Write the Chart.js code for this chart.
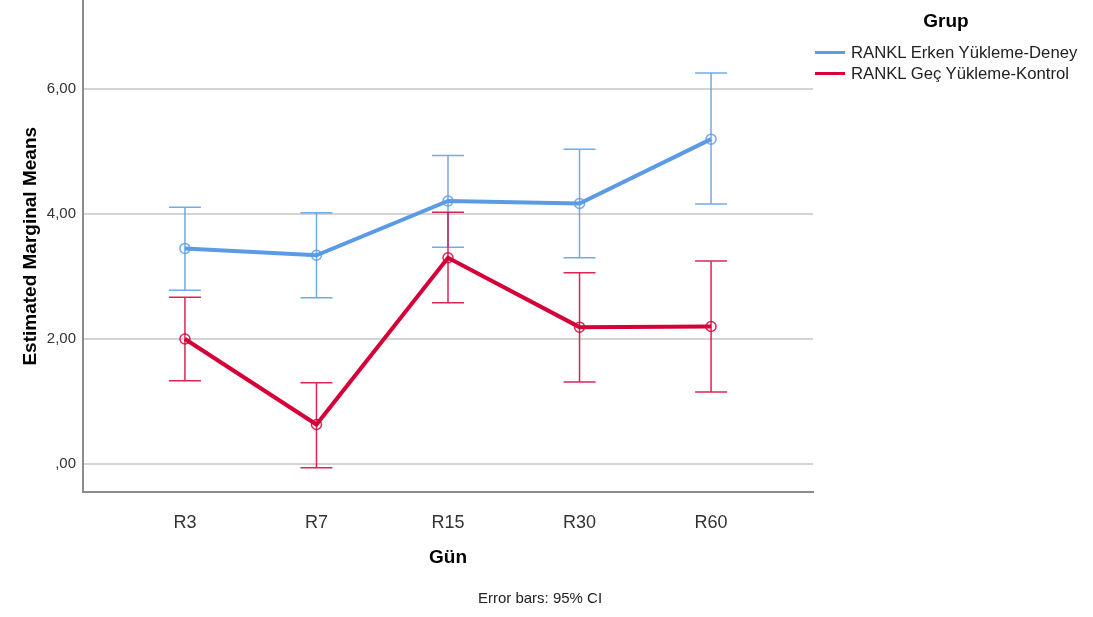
<!DOCTYPE html>
<html>
<head>
<meta charset="utf-8">
<script src="https://cdn.jsdelivr.net/npm/chart.js@4/dist/chart.umd.min.js"></script>
<style>
  body { margin: 0; background: #fff; font-family: 'Liberation Sans', Arial, sans-serif; overflow: hidden; }
  #wrap { position: relative; width: 1093px; height: 617px; overflow: hidden; }
  #chart { position: absolute; left: 0; top: -6px; }
  #legend { position: absolute; left: 812px; top: 0; width: 281px; }
  #legend .title { position: absolute; left: 0; width: 268px; top: 10px; text-align: center; font-weight: bold; font-size: 19px; color: #000; }
  #legend .item { position: absolute; left: 3px; font-size: 16.7px; color: #222; white-space: nowrap; }
  #legend .item span { display: inline-block; width: 30px; height: 3px; vertical-align: middle; margin-right: 6px; position: relative; top: -1px; }
  #note { position: absolute; left: 0; width: 1080px; top: 589px; text-align: center; font-size: 15px; color: #222; }
</style>
</head>
<body>
<div id="wrap">
  <canvas id="chart" width="1093" height="623"></canvas>
  <div id="legend">
    <div class="title">Grup</div>
    <div class="item" style="top:43px"><span style="background:#5b9be6"></span>RANKL Erken Yükleme-Deney</div>
    <div class="item" style="top:64px"><span style="background:#d50037"></span>RANKL Geç Yükleme-Kontrol</div>
  </div>
  <div id="note">Error bars: 95% CI</div>
</div>
<script>
const labels = ['R3', 'R7', 'R15', 'R30', 'R60'];

// estimated marginal means and 95% CI
const erken = [3.45, 3.34, 4.21, 4.17, 5.20];
const erkenLow = [2.78, 2.66, 3.47, 3.30, 4.16];
const erkenHigh = [4.11, 4.02, 4.94, 5.04, 6.26];

const gec = [2.00, 0.63, 3.30, 2.19, 2.20];
const gecLow = [1.33, -0.06, 2.58, 1.31, 1.15];
const gecHigh = [2.67, 1.30, 4.03, 3.06, 3.25];

const yTicks = [0, 2, 4, 6];

const blue = '#5b9be6';
const red = '#d50037';

const errorBars = {
    id: 'errorBars',
    beforeDatasetsDraw(chart) {
        const {ctx, scales: {x, y}} = chart;
        chart.data.datasets.forEach(ds => {
            ctx.save();
            ctx.strokeStyle = ds.barColor;
            ctx.lineWidth = 1.5;
            ds.low.forEach((lo, i) => {
                const px = x.getPixelForValue(i);
                const top = y.getPixelForValue(ds.high[i]);
                const bot = y.getPixelForValue(lo);
                ctx.beginPath();
                ctx.moveTo(px, top);
                ctx.lineTo(px, bot);
                ctx.moveTo(px - 16, top);
                ctx.lineTo(px + 16, top);
                ctx.moveTo(px - 16, bot);
                ctx.lineTo(px + 16, bot);
                ctx.stroke();
            });
            ctx.restore();
        });
    }
};

const data = {
    datasets: [
        {
            label: 'RANKL Erken Yükleme-Deney',
            data: erken.map((v, i) => ({x: i, y: v})),
            low: erkenLow,
            high: erkenHigh,
            borderColor: blue,
            barColor: 'rgba(91, 155, 230, 0.85)',
            borderWidth: 4,
            pointRadius: 5,
            pointBorderWidth: 1.5,
            pointBorderColor: 'rgba(91, 155, 230, 0.85)',
            pointBackgroundColor: 'rgba(255,255,255,0)',
            tension: 0
        },
        {
            label: 'RANKL Geç Yükleme-Kontrol',
            data: gec.map((v, i) => ({x: i, y: v})),
            low: gecLow,
            high: gecHigh,
            borderColor: red,
            barColor: 'rgba(213, 0, 55, 0.85)',
            borderWidth: 4,
            pointRadius: 5,
            pointBorderWidth: 1.5,
            pointBorderColor: 'rgba(213, 0, 55, 0.85)',
            pointBackgroundColor: 'rgba(255,255,255,0)',
            tension: 0
        }
    ]
};

const config = {
    type: 'line',
    data: data,
    plugins: [errorBars],
    options: {
        responsive: false,
        animation: false,
        layout: { padding: { left: 0, right: 280, top: 0, bottom: 0 } },
        plugins: {
            legend: { display: false },
            tooltip: { enabled: false }
        },
        scales: {
            x: {
                type: 'linear',
                min: -0.775,
                max: 4.775,
                afterBuildTicks: axis => { axis.ticks = labels.map((_, i) => ({value: i})); },
                afterFit: axis => { axis.height = 125; axis.paddingLeft = 0; axis.paddingRight = 0; },
                grid: { display: false },
                border: { color: '#8c8c8c', width: 2 },
                ticks: {
                    callback: v => labels[v],
                    color: '#333',
                    padding: 12,
                    font: { family: 'Liberation Sans', size: 18 }
                },
                title: {
                    display: true,
                    text: 'Gün',
                    color: '#000',
                    font: { family: 'Liberation Sans', size: 19, weight: 'bold' },
                    padding: { top: 0, bottom: 48 }
                }
            },
            y: {
                min: -0.45,
                max: 7.42,
                afterBuildTicks: axis => { axis.ticks = yTicks.map(v => ({value: v})); },
                afterFit: axis => { axis.width = 83; axis.paddingTop = 0; axis.paddingBottom = 0; },
                grid: { color: '#d4d4d4', lineWidth: 2, drawTicks: false },
                border: { color: '#8c8c8c', width: 2 },
                ticks: {
                    callback: v => v === 0 ? ',00' : v.toFixed(2).replace('.', ','),
                    color: '#333',
                    padding: 7,
                    font: { family: 'Liberation Sans', size: 15 }
                },
                title: {
                    display: true,
                    text: 'Estimated Marginal Means',
                    color: '#000',
                    font: { family: 'Liberation Sans', size: 19, weight: 'bold' },
                    padding: { top: 19, bottom: 0 }
                }
            }
        }
    }
};

const chart = new Chart(document.getElementById('chart').getContext('2d'), config);
</script>
</body>
</html>
